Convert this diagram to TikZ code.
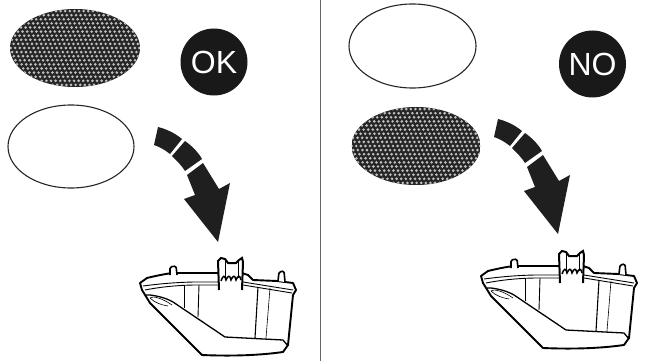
\documentclass[tikz,border=0pt]{standalone}
\usepackage{fontspec}
\setmainfont{Liberation Sans}
\usetikzlibrary{shapes.geometric}
\tikzset{
  plainfilter/.style={draw=black!85,line width=1.1pt,fill=white,ellipse,inner sep=0pt},
  badge/.style={circle,fill=black!90,text=white,inner sep=0pt,minimum size=67pt,font=\fontsize{32pt}{32pt}\selectfont},
  bendarrow/.pic={
    \fill[black!88] (158,127) .. controls (166,129) and (175,133) .. (182,139) -- (170,154) .. controls (165,150) and (160,147) .. (154,145) -- cycle;
    \fill[black!88] (185,141) .. controls (192,146) and (198,152) .. (202,159) -- (185,171) .. controls (182,166) and (177,161) .. (172,156) -- cycle;
    \fill[black!88] (203,163) -- (219,189) -- (230,183) -- (218,242) -- (184,199) -- (195,195) -- (187,175) -- cycle;
  },
  filtercup/.pic={
    % body outline
    \draw[line width=1.9pt,line join=round,fill=white] (140,283) -- (147,278) .. controls (155,276) and (165,274) .. (172,273)
      -- (218,273) -- (242,273) -- (248,275) -- (253,280) -- (277,281) -- (293,283) -- (296,290) -- (293,295)
      -- (288,345) -- (283,352)
      .. controls (255,356) and (225,356) .. (202,355)
      -- (150,303) -- (142,290) -- cycle;
    % rim
    \draw[line width=.9pt] (143,286) .. controls (165,283) and (185,282) .. (197,282) -- (243,282) -- (293,290);
    \draw[line width=.9pt] (145,290) .. controls (165,286) and (185,285) .. (197,285) -- (243,285) -- (292,293);
    % ribs
    \draw[line width=.6pt] (184,285) -- (184,308);
    \draw[line width=.9pt] (199,285) -- (198,317);
    \draw[line width=1.1pt] (258,287) -- (255,338);
    \draw[line width=.6pt] (270,288) -- (266,338);
    % slanted wall
    \draw[line width=1.3pt,line join=round] (146,295) -- (150,295) .. controls (158,296) and (166,298) .. (173,302)
      -- (225,337) -- (283,340) -- (288,346);
    \draw[line width=.6pt] (150,298) .. controls (154,295) and (165,300) .. (172,305);
    \draw[line width=.6pt] (150,298) .. controls (155,303) and (162,305) .. (168,306);
    % lugs
    \draw[line width=1.6pt,fill=white,rounded corners=1.5pt] (170,275) -- (170,267) -- (176,266) -- (177,275);
    \draw[line width=1.6pt,fill=white,rounded corners=1.5pt] (278,281) -- (279,272) -- (284,271) -- (285,282);
    % spool
    \draw[line width=2pt,fill=white] (219,290) -- (218,261) -- (221,258) -- (225,259) -- (228,263) -- (236,263) -- (239,260) -- (242,258) -- (243,262) -- (242,290);
    \draw[line width=.7pt] (225,261) -- (225,278);
    \draw[line width=.7pt] (238,261) -- (238,278);
    \draw[line width=1.5pt] (221,281) .. controls (223,275) and (225,275) .. (226,280) .. controls (228,275) and (230,275) .. (231,280) .. controls (233,275) and (235,275) .. (236,280) .. controls (238,275) and (240,275) .. (241,280);
  },
}
\newcommand{\meshfill}[4]{% centre x, y, radii x, y
  \begin{scope}
    \clip (#1,#2) ellipse [x radius=#3,y radius=#4];
    \fill[black!85] (#1-#3,#2-#4) rectangle (#1+#3,#2+#4);
    \foreach \row in {-10,...,10}
      \foreach \col in {-17,...,17}
        \fill[white!75!black] ({#1+\col*4.6+\row*1.6},{#2+\row*4.1}) circle (1.45);
  \end{scope}
}
\begin{document}
\begin{tikzpicture}[x=1pt,y=-1pt]
  \useasboundingbox (0,0) rectangle (645,361);

  \draw[black!60,line width=1pt] (320,0) -- (320,361);

  % left side
  \meshfill{75}{48}{65}{39}
  \node[plainfilter,minimum width=126pt,minimum height=83pt] (whiteL) at (71,146.5) {};
  \node[badge] (badgeOK) at (214,62) {OK};
  \pic at (0,0) {bendarrow};
  \pic at (0,0) {filtercup};

  % right side
  \node[plainfilter,minimum width=127pt,minimum height=84pt] (whiteR) at (412.5,46) {};
  \meshfill{416}{146}{64.5}{39}
  \node[badge] (badgeNO) at (592.5,64) {NO};
  \pic at (340,-8) {bendarrow};
  \pic at (341,-7) {filtercup};
\end{tikzpicture}
\end{document}
